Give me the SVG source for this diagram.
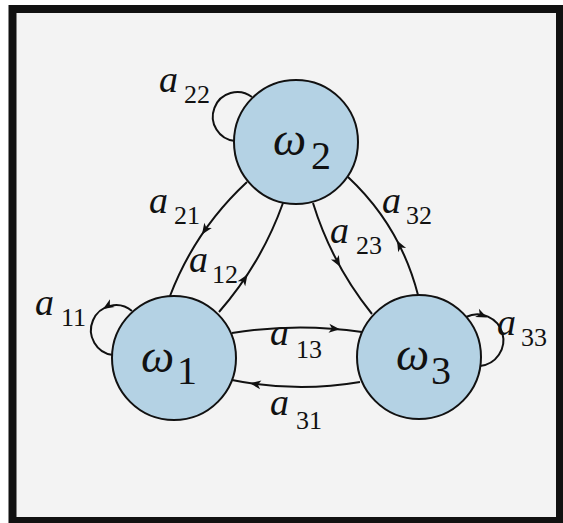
<svg xmlns="http://www.w3.org/2000/svg" width="563" height="523" viewBox="0 0 563 523">
<style>
  .bg { fill:#f3f3f3; stroke:#111; stroke-width:8; }
  .node circle { fill:#b4d2e4; stroke:#111; stroke-width:2; }
  .edge { fill:none; stroke:#111; stroke-width:2; }
  text { font-family:'Liberation Serif', 'DejaVu Serif', serif; fill:#111; }
  .it { font-style:italic; }
  .om { font-size:47px; }
  .oms { font-size:40px; }
  .la { font-size:38px; }
  .ls { font-size:26px; }
</style>
<defs>
  <path id="ah" d="M0,0 L-11,-4.5 L-8,0 L-11,4.5 Z" fill="#111"/>
</defs>
<rect width="563" height="523" fill="#ffffff"/>
<rect class="bg" x="12.5" y="9" width="547.5" height="512"/>

<g id="connectors">
  <path id="e11" class="edge" d="M132,311 A25,25 0 1 0 113,355"/>
  <path id="e22" class="edge" d="M252,97 A24.5,24.5 0 1 0 235,141"/>
  <path id="e33" class="edge" d="M466,317 A25.9,25.9 0 1 1 480,366"/>
  <path id="e21" class="edge" d="M247,182 Q195.2,230 170,296"/>
  <path id="e12" class="edge" d="M219,312 Q261.3,263.6 283,203"/>
  <path id="e23" class="edge" d="M313,203 Q331.9,264.1 372,314"/>
  <path id="e32" class="edge" d="M418,295 Q400.2,225.8 348,177"/>
  <path id="e13" class="edge" d="M232,333 Q297,322.5 362,332"/>
  <path id="e31" class="edge" d="M360,382 Q296,393 232,380"/>
  <use href="#ah" transform="translate(103,308.9) rotate(148.4)"/>
  <use href="#ah" transform="translate(487,317.5) rotate(24.9)"/>
  <use href="#ah" transform="translate(201.9,234.5) rotate(124)"/>
  <use href="#ah" transform="translate(247.5,274.5) rotate(-56.7)"/>
  <use href="#ah" transform="translate(340.2,266.8) rotate(60.9)"/>
  <use href="#ah" transform="translate(397,240.4) rotate(-118)"/>
  <use href="#ah" transform="translate(339.9,329.3) rotate(5.4)"/>
  <use href="#ah" transform="translate(249.9,383.2) rotate(188.6)"/>
</g>

<g id="node-w2" class="node">
  <circle cx="296" cy="142" r="62"/>
  <text><tspan class="it om" x="273" y="155">ω</tspan><tspan class="oms" x="311" y="169">2</tspan></text>
</g>
<g id="node-w1" class="node">
  <circle cx="174" cy="358" r="62"/>
  <text><tspan class="it om" x="141" y="372">ω</tspan><tspan class="oms" x="177" y="384">1</tspan></text>
</g>
<g id="node-w3" class="node">
  <circle cx="419" cy="357" r="62"/>
  <text><tspan class="it om" x="396" y="370">ω</tspan><tspan class="oms" x="431" y="384">3</tspan></text>
</g>

<g id="edge-labels">
  <text><tspan class="it la" x="159" y="92">a</tspan><tspan class="ls" x="184" y="103">22</tspan></text>
  <text><tspan class="it la" x="149" y="213">a</tspan><tspan class="ls" x="174" y="224">21</tspan></text>
  <text><tspan class="it la" x="189" y="272">a</tspan><tspan class="ls" x="212" y="283">12</tspan></text>
  <text><tspan class="it la" x="35" y="315">a</tspan><tspan class="ls" x="61" y="326">11</tspan></text>
  <text><tspan class="it la" x="382" y="213">a</tspan><tspan class="ls" x="406" y="224">32</tspan></text>
  <text><tspan class="it la" x="330" y="243">a</tspan><tspan class="ls" x="356" y="254">23</tspan></text>
  <text><tspan class="it la" x="270" y="345">a</tspan><tspan class="ls" x="296" y="358">13</tspan></text>
  <text><tspan class="it la" x="270" y="415">a</tspan><tspan class="ls" x="296" y="429">31</tspan></text>
  <text><tspan class="it la" x="497" y="335">a</tspan><tspan class="ls" x="521" y="346">33</tspan></text>
</g>
</svg>
